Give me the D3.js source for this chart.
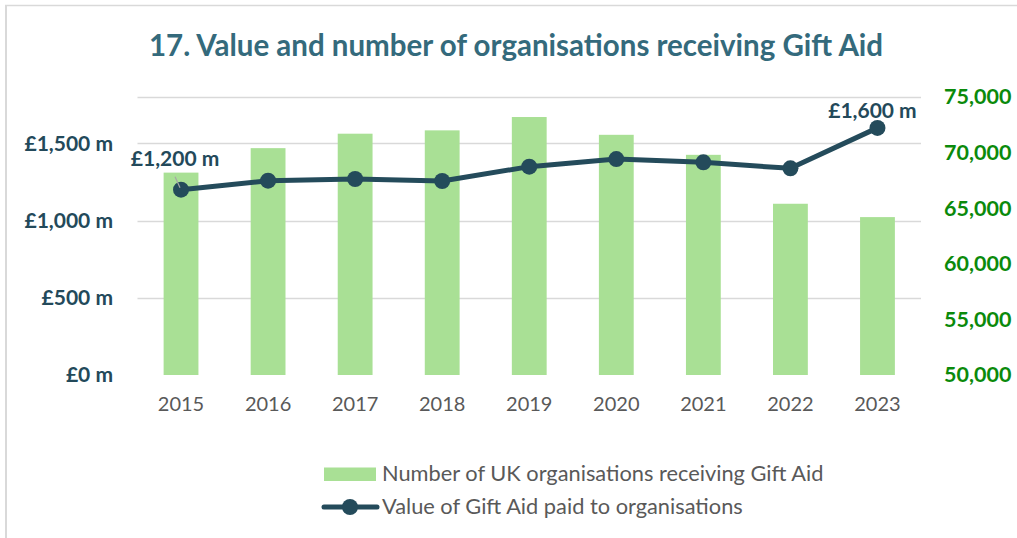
<!DOCTYPE html>
<html>
<head>
<meta charset="utf-8">
<script src="https://cdn.jsdelivr.net/npm/d3@7"></script>
<style>
  body { margin: 0; background: #fff; }
  svg { font-family: Lato, 'Open Sans', sans-serif; }
</style>
</head>
<body>
<div class="canvas"></div>
<script>
// chart data
const years = ['2015', '2016', '2017', '2018', '2019', '2020', '2021', '2022', '2023'];
const orgCounts = [68200, 70400, 71700, 72000, 73200, 71600, 69800, 65400, 64200]; // bars, right axis
const giftAidValue = [1200, 1258, 1269, 1256, 1349, 1398, 1377, 1338, 1600];   // line, £m, left axis
const leftTicks = [0, 500, 1000, 1500];
const gridTicks = [500, 1000, 1500, 1800];
const rightTicks = [50000, 55000, 60000, 65000, 70000, 75000];
const labelledPoints = ['2015', '2023'];

const width = 1017, height = 538;
const plot = { left: 137.5, right: 921, top: 97, bottom: 375 };

const svg = d3.select('.canvas').append('svg')
    .attr('width', width)
    .attr('height', height);

// border (top + left only, as in the original)
svg.append('line')
    .attr('x1', 5).attr('x2', width).attr('y1', 5.5).attr('y2', 5.5)
    .attr('stroke', '#d9d9d9').attr('stroke-width', 1.5);
svg.append('line')
    .attr('x1', 6).attr('x2', 6).attr('y1', 5).attr('y2', 538)
    .attr('stroke', '#d9d9d9').attr('stroke-width', 2);

svg.append('text')
    .attr('x', 516)
    .attr('y', 56)
    .attr('text-anchor', 'middle')
    .attr('fill', '#346a7c')
    .style('font-size', '29.5px')
    .style('font-weight', 'bold')
    .text('17. Value and number of organisations receiving Gift Aid');

const x = d3.scaleBand()
    .domain(years)
    .range([plot.left, plot.right])
    .paddingInner(0.6)
    .paddingOuter(0.3);

const yLeft = d3.scaleLinear().domain([0, 1800]).range([plot.bottom, plot.top]);
const yRight = d3.scaleLinear().domain([50000, 75000]).range([plot.bottom, plot.top]);

// gridlines
svg.append('g')
    .selectAll('line')
    .data(gridTicks)
    .join('line')
    .attr('x1', plot.left)
    .attr('x2', plot.right)
    .attr('y1', d => Math.round(yLeft(d)) + 0.5)
    .attr('y2', d => Math.round(yLeft(d)) + 0.5)
    .attr('stroke', '#d9d9d9')
    .attr('stroke-width', 1.5);

// bars
svg.append('g')
    .selectAll('rect')
    .data(orgCounts)
    .join('rect')
    .attr('x', (d, i) => x(years[i]))
    .attr('width', x.bandwidth())
    .attr('y', d => yRight(d))
    .attr('height', d => plot.bottom - yRight(d))
    .attr('fill', '#a9e095');

// left axis
const leftAxis = svg.append('g')
    .attr('transform', `translate(113, 0)`)
    .call(d3.axisLeft(yLeft).tickValues(leftTicks).tickSize(0).tickPadding(0)
        .tickFormat(d => '£' + d3.format(',')(d) + ' m'));
leftAxis.select('.domain').remove();
leftAxis.selectAll('text')
    .attr('fill', '#23495a')
    .style('font-size', '21px')
    .style('font-weight', 'bold')
    .style('font-family', 'Lato, sans-serif');

// right axis
const rightAxis = svg.append('g')
    .attr('transform', `translate(944, 0)`)
    .call(d3.axisRight(yRight).tickValues(rightTicks).tickSize(0).tickPadding(0)
        .tickFormat(d3.format(',')));
rightAxis.select('.domain').remove();
rightAxis.selectAll('text')
    .attr('fill', '#0b8a0b')
    .style('font-size', '21.5px')
    .style('font-weight', 'bold')
    .style('font-family', 'Lato, sans-serif');

// x axis
const xAxis = svg.append('g')
    .attr('transform', `translate(0, ${plot.bottom})`)
    .call(d3.axisBottom(x).tickSize(0).tickPadding(22));
xAxis.select('.domain').remove();
xAxis.selectAll('text')
    .attr('fill', '#595959')
    .style('font-size', '20px')
    .style('font-family', 'Lato, sans-serif');

// line series
const line = d3.line()
    .x((d, i) => x(years[i]) + x.bandwidth() / 2)
    .y(d => yLeft(d));

svg.append('path')
    .datum(giftAidValue)
    .attr('d', line)
    .attr('fill', 'none')
    .attr('stroke', '#244b5b')
    .attr('stroke-width', 5)
    .attr('stroke-linejoin', 'round');

svg.append('g')
    .selectAll('circle')
    .data(giftAidValue)
    .join('circle')
    .attr('cx', (d, i) => x(years[i]) + x.bandwidth() / 2)
    .attr('cy', d => yLeft(d))
    .attr('r', 8)
    .attr('fill', '#244b5b');

// data labels for first and last point
const labelData = years.map((y, i) => ({ year: y, value: giftAidValue[i] }))
    .filter(d => labelledPoints.includes(d.year));

// small leader line on the first label
const first = labelData[0];
svg.append('line')
    .attr('x1', x(first.year) + x.bandwidth() / 2 - 6)
    .attr('y1', yLeft(first.value) - 13)
    .attr('x2', x(first.year) + x.bandwidth() / 2 - 1)
    .attr('y2', yLeft(first.value) - 2)
    .attr('stroke', '#a6a6a6')
    .attr('stroke-width', 1.2);

svg.append('g')
    .selectAll('text')
    .data(labelData)
    .join('text')
    .attr('x', d => x(d.year) + x.bandwidth() / 2 - (d.year === '2015' ? 6 : 5))
    .attr('y', d => yLeft(d.value) - (d.year === '2015' ? 24 : 10))
    .attr('text-anchor', 'middle')
    .attr('fill', '#23495a')
    .style('font-size', '21px')
    .style('font-weight', 'bold')
    .text(d => '£' + d3.format(',')(d.value) + ' m');

// legend
const legend = svg.append('g');
legend.append('rect')
    .attr('x', 324).attr('y', 467.5)
    .attr('width', 52).attr('height', 13.5)
    .attr('fill', '#a9e095');
legend.append('text')
    .attr('x', 382).attr('y', 481)
    .attr('fill', '#595959')
    .style('font-size', '21.8px')
    .text('Number of UK organisations receiving Gift Aid');

legend.append('line')
    .attr('x1', 324).attr('x2', 377)
    .attr('y1', 507).attr('y2', 507)
    .attr('stroke', '#244b5b')
    .attr('stroke-width', 5)
    .attr('stroke-linecap', 'round');
legend.append('circle')
    .attr('cx', 350).attr('cy', 507).attr('r', 8)
    .attr('fill', '#244b5b');
legend.append('text')
    .attr('x', 382).attr('y', 514)
    .attr('fill', '#595959')
    .style('font-size', '21.8px')
    .text('Value of Gift Aid paid to organisations');
</script>
</body>
</html>
